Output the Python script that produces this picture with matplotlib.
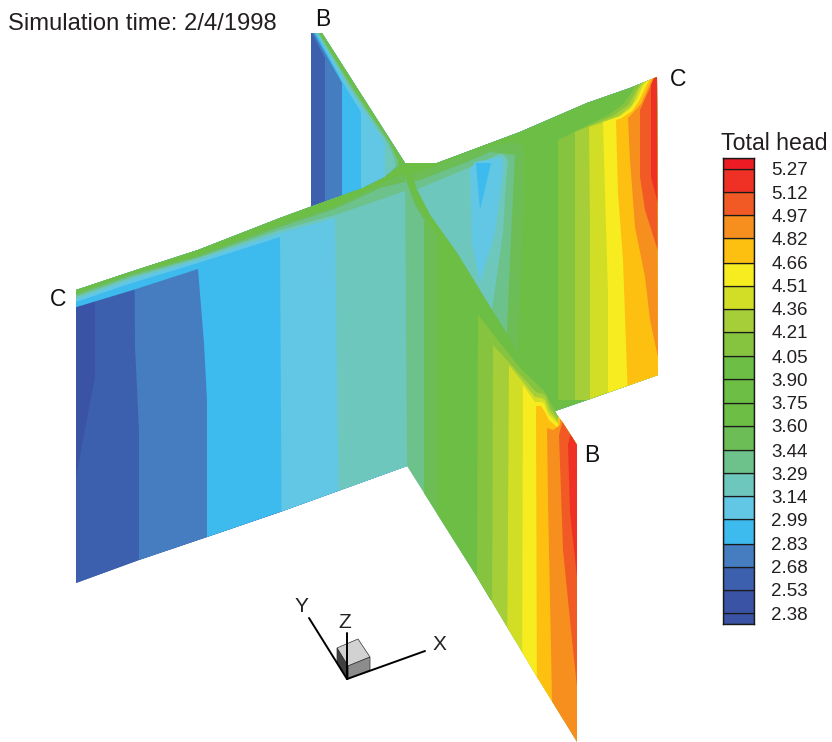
# Total head contours on two crossing vertical sections (B-B and C-C)
import matplotlib
matplotlib.use("Agg")
import matplotlib.pyplot as plt
from matplotlib.patches import Polygon

plt.rcParams["font.family"] = ["Liberation Sans", "DejaVu Sans"]

# ==============================
# Data
# ==============================
levels = [2.38, 2.53, 2.68, 2.83, 2.99, 3.14, 3.29, 3.44, 3.60, 3.75, 3.90,
          4.05, 4.21, 4.36, 4.51, 4.66, 4.82, 4.97, 5.12, 5.27]
level_labels = ["2.38", "2.53", "2.68", "2.83", "2.99", "3.14", "3.29", "3.44", "3.60", "3.75", "3.90",
                "4.05", "4.21", "4.36", "4.51", "4.66", "4.82", "4.97", "5.12", "5.27"]
# one colour per band, band 0 is below 2.38, band 20 above 5.27
band_colors = ["#3a53a4", "#3a53a4", "#3c60ad", "#457dc0", "#3dbbee", "#61c7e4", "#6ec7bc",
               "#6dc18b", "#6cbd56", "#6dbe45", "#6dbe45", "#6dbe45", "#86c440", "#a6ce39",
               "#d2de26", "#f7ec1f", "#fec010", "#f78f1e", "#f15a24", "#ee3124", "#ed1c24"]

# section outlines in image pixels
bb_back_outline = [(311, 33), (322, 33), (405, 163), (405, 180), (311, 215)]
cc_outline = [(76, 290), (127, 273), (198, 250), (280, 218), (310, 207), (363, 188), (385, 177),
              (397, 167), (405, 163), (437, 163), (520, 132), (587, 103), (630, 88), (657, 77),
              (658, 375), (587, 400), (555, 411), (407, 466), (280, 512), (207, 537), (139, 560), (76, 583)]
bb_front_outline = [(405, 163), (411, 172), (417, 190), (430, 215), (457, 253), (492, 310), (517, 350),
                    (538, 382), (545, 392), (557, 415), (563, 423), (577, 445), (577, 742),
                    (537, 677), (477, 577), (407, 466)]

# contour lines: band number, then the line the band lies to the right of
bb_back_contours = [
    (3, [(312, 33), (325, 58), (325, 260)]),
    (4, [(314, 33), (342, 83), (342, 260)]),
    (5, [(316, 33), (346, 88), (361, 112), (361, 260)]),
    (6, [(317, 33), (349, 88), (365, 112), (385, 143), (385, 260)]),
    (7, [(318, 33), (351, 88), (367, 112), (388, 143), (395, 160), (395, 260)]),
    (9, [(319, 33), (353, 88), (369, 112), (390, 143), (398, 160), (400, 260)]),
]
cc_contours = [
    (2, [(95, 0), (95, 377), (76, 477), (70, 600)]),
    (3, [(133, 0), (135, 347), (139, 430), (139, 600)]),
    (4, [(70, 309), (133, 290), (198, 269), (204, 343), (207, 400), (207, 600)]),
    (5, [(70, 304), (132, 283), (198, 263), (280, 237), (282, 600)]),
    (6, [(70, 301), (132, 279), (198, 260), (280, 233), (335, 218), (340, 600)]),
    (7, [(70, 299), (132, 277), (198, 258), (280, 230), (335, 215), (408, 190), (418, 189), (468, 168),
         (502, 153), (508, 160), (506, 183), (503, 233), (492, 310), (485, 420)]),
    (8, [(70, 297), (132, 275), (198, 257), (280, 227), (335, 209), (380, 188), (400, 183), (420, 180),
         (467, 162), (490, 152), (515, 155), (512, 217), (507, 330), (500, 420)]),
    (9, [(70, 295), (132, 273), (198, 255), (280, 224), (335, 206), (380, 184), (400, 175), (420, 172),
         (443, 163), (467, 153), (510, 142), (523, 145), (523, 217), (518, 350), (518, 420)]),
    (12, [(637, 80), (632, 92), (623, 104), (610, 114), (558, 140), (558, 400)]),
    (13, [(643, 78), (636, 91), (628, 105), (613, 116), (575, 132), (575, 400)]),
    (14, [(646, 78), (639, 89), (632, 105), (617, 118), (589, 127), (590, 227), (590, 400)]),
    (15, [(649, 78), (643, 86), (637, 99), (630, 109), (620, 116), (603, 122), (605, 193), (608, 293), (608, 400)]),
    (16, [(652, 75), (646, 86), (639, 101), (632, 111), (622, 118), (616, 120), (618, 193), (623, 260), (628, 400)]),
    (17, [(654, 75), (648, 88), (641, 104), (628, 118), (630, 160), (635, 227), (645, 277), (650, 320),
          (657, 353), (665, 380)]),
    (18, [(656, 75), (649, 90), (640, 110), (640, 177), (645, 210), (657, 248), (670, 280)]),
    (19, [(657, 70), (651, 85), (651, 177), (657, 200), (670, 230)]),
]
cc_bubble_outer = [(470, 170), (475, 162), (502, 157), (503, 170), (495, 233), (480, 283), (472, 243)]
cc_bubble_inner = [(476, 163), (491, 163), (480, 210)]
bb_front_contours = [
    (8, [(400, 165), (407, 183), (415, 205), (424, 220), (424, 600)]),
    (9, [(402, 165), (409, 185), (417, 203), (437, 237), (437, 600)]),
    (12, [(560, 418), (552, 404), (547, 390), (543, 390), (520, 368), (478, 315), (477, 600)]),
    (13, [(559, 420), (550, 408), (546, 396), (543, 394), (536, 392), (493, 345), (492, 640)]),
    (14, [(558, 422), (549, 411), (545, 400), (542, 398), (535, 397), (509, 365), (507, 680)]),
    (15, [(558, 424), (548, 414), (544, 403), (541, 402), (535, 402), (523, 385), (522, 700)]),
    (16, [(558, 428), (549, 420), (545, 412), (541, 406), (536, 406), (537, 720)]),
    (17, [(560, 425), (553, 430), (547, 428), (548, 500), (553, 750)]),
    (18, [(562, 424), (559, 435), (563, 550), (572, 640), (577, 687), (580, 760)]),
    (19, [(570, 436), (568, 445), (570, 513), (577, 577), (585, 650)]),
]

# orientation triad
triad_origin = (347, 679)
triad_ends = {"X": (425, 651), "Y": (309, 618), "Z": (347, 633)}
triad_labels = {"X": (439, 644), "Y": (301, 607), "Z": (345, 623)}
cube_faces = [([(337, 648), (358, 639), (370, 657), (348, 666)], "#d2d2d2"),
              ([(348, 666), (370, 657), (370, 670), (348, 679)], "#8c8c8c"),
              ([(337, 648), (348, 666), (348, 679), (337, 662)], "#404040")]
section_labels = [("B", 323, 20), ("C", 678, 79), ("C", 58, 299), ("B", 592, 455)]

# ==============================
# Figure
# ==============================
W, H = 832, 742
fig = plt.figure(figsize=(W / 100, H / 100), dpi=100)
ax = fig.add_axes([0, 0, 1, 1])
ax.set_xlim(0, W)
ax.set_ylim(H, 0)
ax.axis("off")


def draw_section(outline, base_band, contours, extra=()):
    clip = Polygon(outline, closed=True, transform=ax.transData)
    base = Polygon(outline, closed=True, facecolor=band_colors[base_band], edgecolor="none")
    ax.add_patch(base)
    for band, line in contours:
        # fill everything right of the contour, later bands paint over it
        pts = line + [(900, line[-1][1]), (900, -20), (line[0][0], -20)]
        patch = Polygon(pts, closed=True, facecolor=band_colors[band], edgecolor="none")
        ax.add_patch(patch)
        patch.set_clip_path(clip)
    for band, pts in extra:
        patch = Polygon(pts, closed=True, facecolor=band_colors[band], edgecolor="none")
        ax.add_patch(patch)
        patch.set_clip_path(clip)


draw_section(bb_back_outline, 2, bb_back_contours)
draw_section(cc_outline, 1, cc_contours, [(5, cc_bubble_outer), (4, cc_bubble_inner)])
draw_section(bb_front_outline, 7, bb_front_contours)

# --- labels ---
ax.text(8, 24, "Simulation time: 2/4/1998", fontsize=17.1, color="#231f20", ha="left", va="center")
for name, x, y in section_labels:
    ax.text(x, y, name, fontsize=16.5, color="#111111", ha="center", va="center")

# --- triad ---
for face, col in cube_faces:
    ax.add_patch(Polygon(face, closed=True, facecolor=col, edgecolor="#333333", lw=0.5))
for key, end in triad_ends.items():
    ax.plot([triad_origin[0], end[0]], [triad_origin[1], end[1]], color="black", lw=1.4,
            solid_capstyle="round")
    ax.text(triad_labels[key][0], triad_labels[key][1], key, fontsize=15, color="#222222",
            ha="center", va="center")

# --- legend ---
top_px, bottom_px = 158, 624
px_per_unit = (613 - 169) / (levels[-1] - levels[0])
v_bottom = levels[0] - (bottom_px - 613) / px_per_unit
v_top = levels[-1] + (169 - top_px) / px_per_unit
cax = fig.add_axes([723 / W, 1 - bottom_px / H, 31 / W, (bottom_px - top_px) / H])
edges = [v_bottom] + levels + [v_top]
for i, col in enumerate(band_colors):
    cax.bar(0.5, edges[i + 1] - edges[i], width=1, bottom=edges[i], color=col,
            edgecolor="#1a1a1a", linewidth=0.9)
cax.set_xlim(0, 1)
cax.set_ylim(v_bottom, v_top)
cax.set_xticks([])
cax.yaxis.tick_right()
cax.set_yticks(levels)
cax.set_yticklabels(level_labels, fontsize=13.5, color="#231f20")
cax.tick_params(axis="y", length=0, pad=12.5)
for s in cax.spines.values():
    s.set_linewidth(1.0)
    s.set_color("#1a1a1a")
ax.text(721, 143, "Total head", fontsize=16.7, color="#231f20", ha="left", va="center")

fig.savefig("out.png", dpi=100)
